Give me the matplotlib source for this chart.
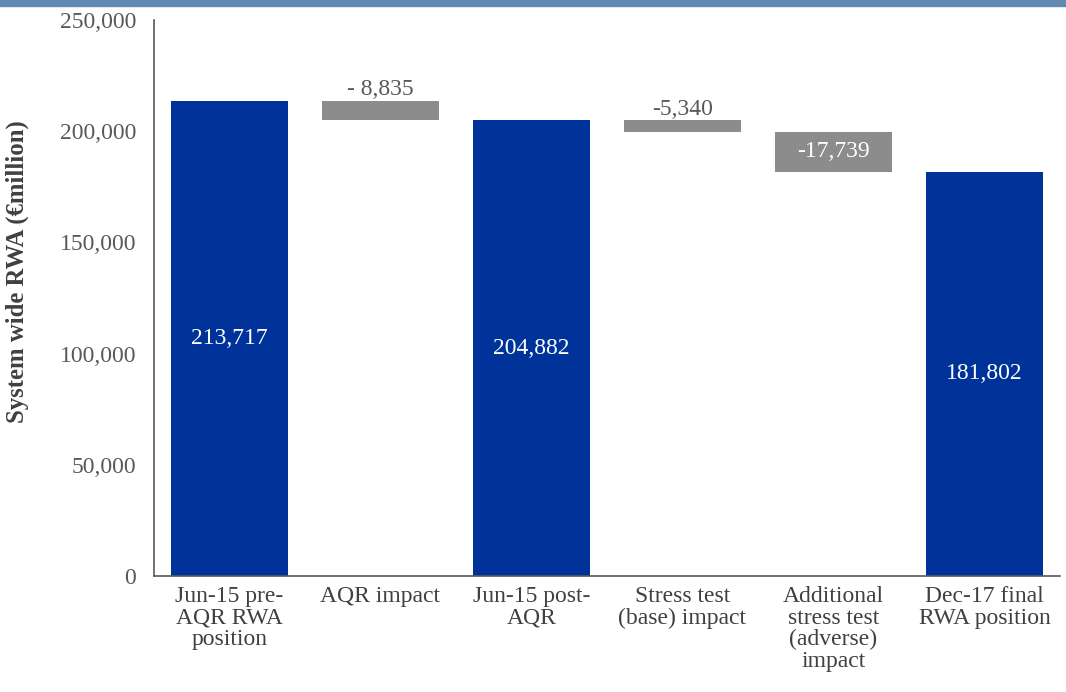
import matplotlib
matplotlib.use("Agg")
import matplotlib.pyplot as plt
from matplotlib.ticker import FuncFormatter

plt.rcParams["font.family"] = ["Liberation Serif", "DejaVu Serif"]

categories = ["Jun-15 pre-\nAQR RWA\nposition", "AQR impact", "Jun-15 post-\nAQR",
              "Stress test\n(base) impact", "Additional\nstress test\n(adverse)\nimpact",
              "Dec-17 final\nRWA position"]
totals = {0: 213717, 2: 204882, 5: 181802}
changes = {1: -8835, 3: -5340, 4: -17739}
change_labels = {1: "- 8,835", 3: "-5,340", 4: "-17,739"}

blue = "#003399"
grey = "#8c8c8c"
text_grey = "#595959"

fig = plt.figure(figsize=(10.66, 6.92), dpi=100)
ax = fig.add_axes([154 / 1066, 1 - 576 / 692, (1060 - 154) / 1066, 556 / 692])

# header band
fig.patches.append(plt.Rectangle((0, 1 - 6 / 692), 1, 6 / 692, transform=fig.transFigure,
                                 color="#6389b0", zorder=0))

width = 0.775
running = 0
for i in range(len(categories)):
    if i in totals:
        v = totals[i]
        ax.bar(i, v, width=width, color=blue)
        ax.text(i, v / 2, f"{v:,}", ha="center", va="center", color="white", fontsize=17)
        running = v
    else:
        d = changes[i]
        top = running
        running = running + d
        ax.bar(i, top - running, bottom=running, width=width, color=grey)
        if i == 4:
            ax.text(i, (top + running) / 2, change_labels[i], ha="center", va="center",
                    color="white", fontsize=17)
        else:
            ax.text(i, top + 300, change_labels[i], ha="center", va="bottom",
                    color=text_grey, fontsize=17)

ax.set_xlim(-0.5, len(categories) - 0.5)
ax.set_ylim(0, 250000)
ax.set_yticks(range(0, 250001, 50000))
ax.yaxis.set_major_formatter(FuncFormatter(lambda v, p: f"{int(v):,}"))
ax.set_xticks(range(len(categories)))
ax.set_xticklabels(categories, fontsize=17, color="#404040", linespacing=1.05)
ax.tick_params(axis="y", labelsize=17, labelcolor=text_grey, length=0, pad=13)
ax.tick_params(axis="x", length=0, pad=7)
for s in ("top", "right"):
    ax.spines[s].set_visible(False)
for s in ("left", "bottom"):
    ax.spines[s].set_color("#595959")
    ax.spines[s].set_linewidth(1.2)

ax.set_ylabel("System wide RWA (€million)", fontsize=17.8, fontweight="bold", color="#404040")
ax.yaxis.set_label_coords(-0.138, 0.548)

fig.savefig("out.png", dpi=100)
